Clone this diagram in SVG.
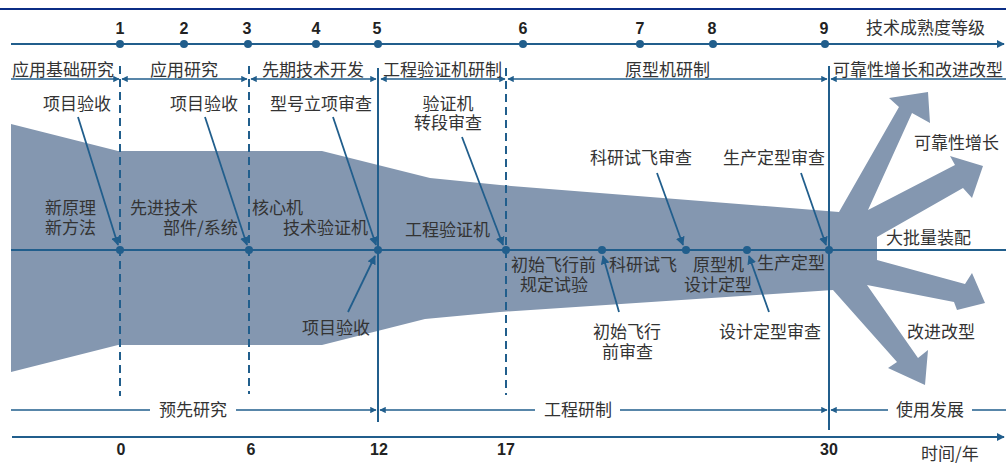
<svg xmlns="http://www.w3.org/2000/svg" width="1006" height="463" viewBox="0 0 1006 463">
<defs>
<marker id="ah" viewBox="0 0 10 10" refX="9" refY="5" markerWidth="4" markerHeight="4" orient="auto-start-reverse" markerUnits="strokeWidth">
<path d="M0,0 L10,5 L0,10 Z" fill="#215e8c"/>
</marker>
<marker id="ah2" viewBox="0 0 10 10" refX="9" refY="5" markerWidth="5" markerHeight="5" orient="auto-start-reverse" markerUnits="strokeWidth">
<path d="M0,0 L10,5 L0,10 Z" fill="#215e8c"/>
</marker>
<style>
.ln{stroke:#215e8c;stroke-width:2;fill:none}
.thin{stroke:#215e8c;stroke-width:1.6;fill:none}
.ld{stroke:#215e8c;stroke-width:1.8;fill:none;marker-end:url(#ah2)}
.dash{stroke:#215e8c;stroke-width:2;fill:none;stroke-dasharray:8,5}
.dot{fill:#215e8c}
text{font-family:"Noto Sans CJK SC","Noto Sans",sans-serif;font-size:17px;fill:#333}
.num{font-family:"Liberation Sans",Arial,sans-serif;font-weight:bold;font-size:16px;fill:#222}
.m{text-anchor:middle}
</style>
</defs>
<rect width="1006" height="463" fill="#fff"/>
<line x1="0" y1="9" x2="1006" y2="9" stroke="#0b2d85" stroke-width="2.2"/>
<g id="band">
<polygon fill="#8497b0" points="11,124 118,151 322,151 430,178 500,185 839,212 899,107 889,98 928,92 930,123 912,113 868,210 955,165 950,156 983,166 972,198 963,188 877,237 877,260 965,284 972,273 985,303 957,310 954,302 867,285 918,358 928,350 925,385 888,368 897,362 833,290 500,312 425,319 322,345 118,345 11,372"/>
</g>
<g id="connectors">
<line class="ln" x1="11" y1="44" x2="1004" y2="44" marker-end="url(#ah)"/>
<line class="ln" x1="12" y1="437" x2="1004" y2="437" marker-end="url(#ah)"/>
<line class="ln" x1="11" y1="250" x2="1006" y2="250"/>
<line class="dash" x1="120" y1="66" x2="120" y2="396"/>
<line class="dash" x1="249" y1="66" x2="249" y2="394"/>
<line class="dash" x1="506" y1="68" x2="506" y2="395"/>
<line class="ln" x1="378" y1="68" x2="378" y2="422"/>
<line class="ln" x1="829" y1="66" x2="829" y2="430"/>
<line class="thin" x1="11" y1="79" x2="119" y2="79" marker-end="url(#ah)"/>
<line class="thin" x1="122" y1="79" x2="247" y2="79" marker-start="url(#ah)" marker-end="url(#ah)"/>
<line class="thin" x1="251" y1="79" x2="376" y2="79" marker-start="url(#ah)" marker-end="url(#ah)"/>
<line class="thin" x1="381" y1="79" x2="505" y2="79" marker-start="url(#ah)" marker-end="url(#ah)"/>
<line class="thin" x1="508" y1="79" x2="827" y2="79" marker-start="url(#ah)" marker-end="url(#ah)"/>
<line class="thin" x1="831" y1="79" x2="1006" y2="79" marker-start="url(#ah)"/>
<line class="thin" x1="11" y1="410" x2="150" y2="410"/>
<line class="thin" x1="236" y1="410" x2="376" y2="410" marker-end="url(#ah)"/>
<line class="thin" x1="380" y1="410" x2="535" y2="410" marker-start="url(#ah)"/>
<line class="thin" x1="620" y1="410" x2="827" y2="410" marker-end="url(#ah)"/>
<line class="thin" x1="831" y1="410" x2="888" y2="410" marker-start="url(#ah)"/>
<line class="thin" x1="972" y1="410" x2="1006" y2="410"/>
<line class="ld" x1="78" y1="117" x2="118" y2="245"/>
<line class="ld" x1="205" y1="117" x2="247" y2="245"/>
<line class="ld" x1="333" y1="117" x2="376" y2="245"/>
<line class="ld" x1="462" y1="137" x2="503" y2="245"/>
<line class="ld" x1="348" y1="312" x2="375" y2="256"/>
<line class="ld" x1="657" y1="173" x2="683" y2="245"/>
<line class="ld" x1="801" y1="173" x2="826" y2="245"/>
<line class="ld" x1="619" y1="312" x2="603" y2="256"/>
<line class="ld" x1="769" y1="312" x2="749" y2="256"/>
</g>
<g id="trl-dots">
<circle class="dot" cx="120" cy="44" r="4"/><circle class="dot" cx="184" cy="44" r="4"/><circle class="dot" cx="248" cy="44" r="4"/>
<circle class="dot" cx="316" cy="44" r="4"/><circle class="dot" cx="378" cy="44" r="4"/><circle class="dot" cx="523" cy="44" r="4"/>
<circle class="dot" cx="640" cy="44" r="4"/><circle class="dot" cx="713" cy="44" r="4"/><circle class="dot" cx="825" cy="44" r="4"/>
</g>
<g id="trl-labels">
<text class="num m" x="120" y="34">1</text><text class="num m" x="184" y="34">2</text><text class="num m" x="247" y="34">3</text>
<text class="num m" x="316" y="34">4</text><text class="num m" x="377" y="34">5</text><text class="num m" x="523" y="34">6</text>
<text class="num m" x="640" y="34">7</text><text class="num m" x="712" y="34">8</text><text class="num m" x="824" y="34">9</text>
<text x="866" y="34">技术成熟度等级</text>
</g>
<g id="phases-top">
<text x="12" y="76">应用基础研究</text>
<text x="150" y="76">应用研究</text>
<text x="262" y="76">先期技术开发</text>
<text x="383" y="76">工程验证机研制</text>
<text x="625" y="76">原型机研制</text>
<text x="833" y="76">可靠性增长和改进改型</text>
</g>
<g id="milestones">
<circle class="dot" cx="120" cy="250" r="4"/><circle class="dot" cx="249" cy="250" r="4"/><circle class="dot" cx="378" cy="250" r="4"/>
<circle class="dot" cx="506" cy="250" r="4"/><circle class="dot" cx="602" cy="250" r="4"/><circle class="dot" cx="686" cy="250" r="4"/>
<circle class="dot" cx="747" cy="250" r="4"/><circle class="dot" cx="829" cy="250" r="4"/>
</g>
<g id="reviews">
<text x="43" y="110">项目验收</text>
<text x="170" y="110">项目验收</text>
<text x="270" y="110">型号立项审查</text>
<text class="m" x="448" y="110">验证机</text>
<text class="m" x="448" y="129">转段审查</text>
<text x="302" y="334">项目验收</text>
<text x="590" y="164">科研试飞审查</text>
<text x="723" y="164">生产定型审查</text>
<text x="593" y="338">初始飞行</text>
<text x="602" y="358">前审查</text>
<text x="719" y="338">设计定型审查</text>
</g>
<g id="stages">
<text x="45" y="214">新原理</text>
<text x="45" y="234">新方法</text>
<text x="130" y="214">先进技术</text>
<text x="163" y="234">部件/系统</text>
<text x="252" y="214">核心机</text>
<text x="283" y="234">技术验证机</text>
<text x="405" y="236">工程验证机</text>
<text x="511" y="271">初始飞行前</text>
<text x="520" y="291">规定试验</text>
<text x="609" y="271">科研试飞</text>
<text x="693" y="271">原型机</text>
<text x="684" y="291">设计定型</text>
<text x="757" y="269">生产定型</text>
</g>
<g id="outcomes">
<text x="914" y="149">可靠性增长</text>
<text x="886" y="244">大批量装配</text>
<text x="907" y="338">改进改型</text>
</g>
<g id="phases-bottom">
<text class="m" x="193" y="416">预先研究</text>
<text class="m" x="578" y="416">工程研制</text>
<text class="m" x="930" y="416">使用发展</text>
</g>
<g id="time-axis">
<text class="num m" x="121" y="455">0</text>
<text class="num m" x="251" y="455">6</text>
<text class="num m" x="379" y="455">12</text>
<text class="num m" x="506" y="455">17</text>
<text class="num m" x="829" y="455">30</text>
<text x="921" y="460">时间/年</text>
</g>
</svg>
